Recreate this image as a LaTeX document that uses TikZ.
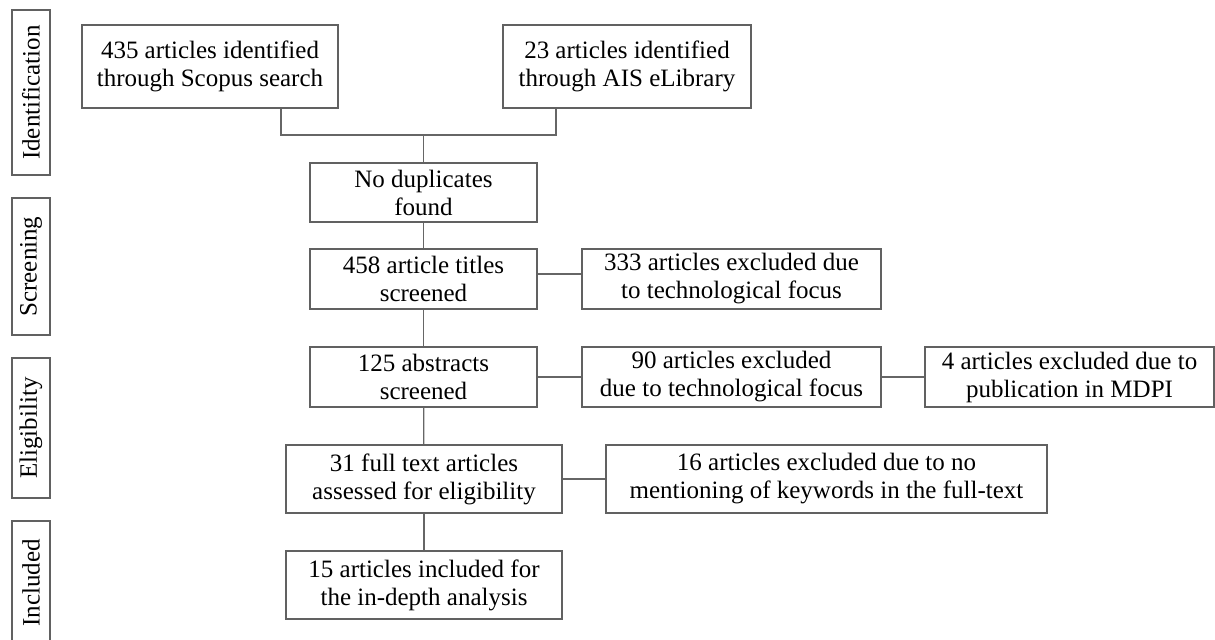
\documentclass[tikz,border=0pt]{standalone}
\usepackage{fontspec}
\setmainfont{Liberation Serif}

\begin{document}
\begin{tikzpicture}[x=0.5pt,y=-0.5pt,
  prisma/.style={draw=black!62,line width=1pt,align=center,inner sep=0pt,
    font=\fontsize{12.5}{14}\selectfont},
  phase/.style={draw=black!62,line width=1pt,rotate=90,inner sep=0pt,
    minimum height=19pt,font=\fontsize{12.5}{14}\selectfont},
  link/.style={draw=black!60,line width=0.6pt}]

  \fill[white] (0,0) rectangle (1215,640);
  \useasboundingbox (0,0) rectangle (1215,640);

  % faze na levi
  \node[phase,minimum width=82.5pt] (ident) at (31,92.5) {Identification};
  \node[phase,minimum width=68.5pt] (screen) at (31,266.5) {Screening};
  \node[phase,minimum width=70pt] (elig) at (31,428) {Eligibility};
  \node[phase,minimum width=62pt] (incl) at (31,583) {Included};

  % glavni stolpec
  \node[prisma,minimum width=128pt,minimum height=41.5pt] (scopus) at (210,66.5)
    {435 articles identified\\through Scopus search};
  \node[prisma,minimum width=124pt,minimum height=41.5pt] (aislib) at (627,66.5)
    {23 articles identified\\through AIS eLibrary};
  \node[prisma,minimum width=113.5pt,minimum height=29.5pt] (nodup) at (423.5,192.5)
    {No duplicates\\found};
  \node[prisma,minimum width=113.5pt,minimum height=30pt] (titles) at (423.5,279)
    {458 article titles\\screened};
  \node[prisma,minimum width=113.5pt,minimum height=30pt] (abstracts) at (423.5,377)
    {125 abstracts\\screened};
  \node[prisma,minimum width=138pt,minimum height=34pt] (fulltext) at (424,479)
    {31 full text articles\\assessed for eligibility};
  \node[prisma,minimum width=138pt,minimum height=34pt] (included) at (424,585)
    {15 articles included for\\the in-depth analysis};

  % izloceni
  \node[prisma,minimum width=149.5pt,minimum height=30pt] (excltitles) at (731.5,279)
    {333 articles excluded due\\to technological focus};
  \node[prisma,minimum width=149.5pt,minimum height=30pt] (exclabs) at (731.5,377)
    {90 articles excluded\\due to technological focus};
  \node[prisma,minimum width=144.5pt,minimum height=30pt] (mdpi) at (1069.5,377)
    {4 articles excluded due to\\publication in MDPI};
  \node[prisma,minimum width=220.5pt,minimum height=34pt] (exclfull) at (826.5,479)
    {16 articles excluded due to no\\mentioning of keywords in the full-text};

  % povezave
  \coordinate (jl) at (281,135);
  \coordinate (jr) at (556,135);
  \draw[link] (scopus.south -| jl) -- (jl) -- (jr) -- (aislib.south -| jr); %ZDRUZI
  \draw[link] (nodup.north |- jl) -- (nodup.north);
  \draw[link] (nodup) -- (titles);
  \draw[link] (titles) -- (abstracts);
  \draw[link] (abstracts) -- (fulltext);
  \draw[link] (fulltext) -- (included);
  \draw[link] ([yshift=2.5pt]titles.east) -- ([yshift=2.5pt]excltitles.west);
  \draw[link] (abstracts) -- (exclabs);
  \draw[link] (exclabs) -- (mdpi);
  \draw[link] (fulltext) -- (exclfull);

\end{tikzpicture}
\end{document}
